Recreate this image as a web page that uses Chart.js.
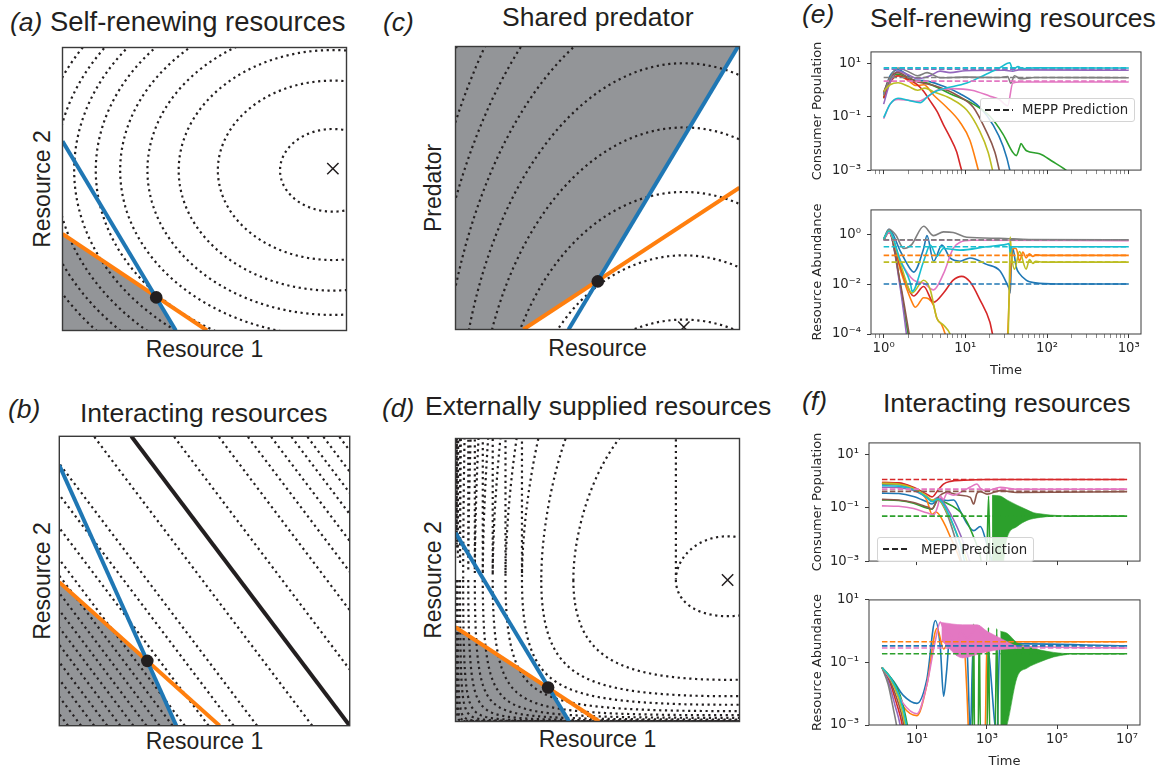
<!DOCTYPE html>
<html>
<head>
<meta charset="utf-8">
<script src="https://cdn.jsdelivr.net/npm/chart.js@4.4.1/dist/chart.umd.min.js"></script>
<style>
html, body { margin: 0; padding: 0; background: #fff; }
body { width: 1161px; height: 771px; position: relative; overflow: hidden; font-family: 'Liberation Sans', Arial, sans-serif; color: #231f20; }
canvas { position: absolute; }
.ttl { position: absolute; font-size: 26.5px; line-height: 26px; white-space: nowrap; }
.tag { position: absolute; font-size: 26.5px; line-height: 26px; white-space: nowrap; font-style: italic; }
.lbl { position: absolute; font-size: 23px; line-height: 23px; white-space: nowrap; text-align: center; }
.rot { position: absolute; font-size: 23px; line-height: 23px; white-space: nowrap; transform: translate(-50%, -50%) rotate(-90deg); }
.leg { position: absolute; background: rgba(255,255,255,0.85); border: 1px solid #d4d4d4; border-radius: 3px; font-family: 'DejaVu Sans', sans-serif; font-size: 13.3px; color: #262626; }
.leg .dash { position: absolute; height: 2px; background: repeating-linear-gradient(to right, #262626 0 6px, transparent 6px 9px); }
.leg .txt { position: absolute; line-height: 13px; white-space: nowrap; }
</style>
</head>
<body>

<div class="tag" style="left:10px;top:9px">(a)</div>
<div class="ttl" style="left:50px;top:9px;font-size:27.4px">Self-renewing resources</div>
<div class="tag" style="left:8px;top:396px">(b)</div>
<div class="ttl" style="left:80px;top:400px">Interacting resources</div>
<div class="tag" style="left:383px;top:9px">(c)</div>
<div class="ttl" style="left:502px;top:4px">Shared predator</div>
<div class="tag" style="left:382px;top:395px">(d)</div>
<div class="ttl" style="left:425px;top:393px">Externally supplied resources</div>
<div class="tag" style="left:802px;top:1px">(e)</div>
<div class="ttl" style="left:870px;top:5px">Self-renewing resources</div>
<div class="tag" style="left:802px;top:388px">(f)</div>
<div class="ttl" style="left:883px;top:390px">Interacting resources</div>

<div class="lbl" style="left:59px;width:291px;top:338px">Resource 1</div>
<div class="rot" style="left:42px;top:189px">Resource 2</div>
<div class="lbl" style="left:59px;width:291px;top:730px">Resource 1</div>
<div class="rot" style="left:42px;top:581px">Resource 2</div>
<div class="lbl" style="left:452px;width:291px;top:337px">Resource</div>
<div class="rot" style="left:433px;top:188px">Predator</div>
<div class="lbl" style="left:452px;width:291px;top:728px">Resource 1</div>
<div class="rot" style="left:433px;top:580px">Resource 2</div>

<canvas id="pa" width="303" height="302" style="left:53px;top:38px"></canvas>
<canvas id="pb" width="303" height="302" style="left:53px;top:430px"></canvas>
<canvas id="pc" width="303" height="302" style="left:446px;top:37px"></canvas>
<canvas id="pd" width="303" height="302" style="left:446px;top:429px"></canvas>

<canvas id="e1" width="361" height="146" style="left:800px;top:38px"></canvas>
<canvas id="e2" width="361" height="182" style="left:800px;top:196px"></canvas>
<canvas id="f1" width="361" height="146" style="left:800px;top:429px"></canvas>
<canvas id="f2" width="361" height="183" style="left:800px;top:586px"></canvas>

<div class="leg" style="left:980px;top:98px;width:153px;height:22px">
  <div class="dash" style="left:4px;top:10px;width:28px"></div>
  <div class="txt" style="left:41px;top:4px">MEPP Prediction</div>
</div>
<div class="leg" style="left:877px;top:537px;width:155px;height:23px">
  <div class="dash" style="left:5px;top:10px;width:27px"></div>
  <div class="txt" style="left:43px;top:5px">MEPP Prediction</div>
</div>

<script>
// ---------- phase-plane panels (a)-(d), axes 0..1 ----------
// (a) self-renewing: elliptical contours around the optimum
const aCenter = [0.952, 0.566];
const aRadX = [0.186, 0.405, 0.543, 0.653, 0.749, 0.835, 0.911, 0.976, 1.041, 1.103];
const aRadY = [0.146, 0.317, 0.425, 0.511, 0.586, 0.654, 0.713, 0.764, 0.815, 0.864];
const aBlue = [[0, 0.669], [0.399, 0]];
const aOrange = [[0, 0.341], [0.509, 0]];
const aFixed = [0.33, 0.117];
const aShade = [[0, 0], [0, 0.341], [0.33, 0.117], [0.399, 0]];
const aOptimum = [0.952, 0.572];

// (b) interacting: straight contours, given by their crossing of the Resource 1 axis
const bSlope = 0.752;
const bLevels = [0.03, 0.075, 0.12, 0.165, 0.21, 0.255, 0.30, 0.345, 0.39, 0.432, 0.514, 0.600, 0.681,
                 0.871, 1.146, 1.30, 1.40, 1.48, 1.55, 1.605, 1.66, 1.715];
const bBlue = [[0, 0.9], [0.403, 0]];
const bOrange = [[0, 0.496], [0.552, 0]];
const bBlack = [[0.248, 1], [1, 0]];
const bFixed = [0.303, 0.224];
const bShade = [[0, 0], [0, 0.496], [0.303, 0.224], [0.403, 0]];

// (c) shared predator
const cCenter = [0.804, -0.431];
const cRadX = [0.464, 0.567, 0.653, 0.729, 0.797, 0.863, 0.921, 0.976, 1.027];
const cRadY = [0.466, 0.693, 0.917, 1.145, 1.372, 1.600, 1.828, 2.055, 2.283];
const cBlue = [[0.398, 0], [0.995, 1]];
const cOrange = [[0.239, 0], [1, 0.501]];
const cFixed = [0.501, 0.17];
const cShade = [[0, 0], [0.239, 0], [0.501, 0.17], [0.995, 1], [0, 1]];
const cOptimum = [0.804, 0.008];

// (d) externally supplied: contours through these Resource 1 values (at Resource 2 = optimum)
const dOptimum = [0.958, 0.5];
const dCrossings = [0.776, 0.415, 0.302, 0.234, 0.176, 0.131, 0.096, 0.068, 0.045, 0.027, 0.016, 0.008, 0.004, 0.002];
const dBlue = [[0, 0.667], [0.4, 0]];
const dOrange = [[0, 0.333], [0.506, 0]];
const dFixed = [0.326, 0.12];
const dShade = [[0, 0], [0, 0.333], [0.326, 0.12], [0.4, 0]];

// ---------- time series (e) ----------
const eXTicks = [0.8, 0.9, 1, 2, 3, 4, 5, 6, 7, 8, 9, 10, 20, 30, 40, 50, 60, 70, 80, 90,
                 100, 200, 300, 400, 500, 600, 700, 800, 900, 1000];
const eXLabels = { 1: '10⁰', 10: '10¹', 100: '10²', 1000: '10³' };
const eConsYTicks = [0.001, 0.1, 10];
const eConsYLabels = { 0.001: '10⁻³', 0.1: '10⁻¹', 10: '10¹' };
const eResYTicks = [0.0001, 0.01, 1];
const eResYLabels = { 0.0001: '10⁻⁴', 0.01: '10⁻²', 1: '10⁰' };

const eConsBlue = [[1,0.74],[1.2,3.5],[1.5,5.9],[2,3.5],[2.3,2.4],[3.1,2.3],[5.4,1.4],[8.6,0.74],[15,0.23],[22,0.048],[29,0.0079],[35,0.001],[38,0.0002]];
const eConsOrange = [[1,0.55],[1.2,2],[1.5,3.5],[2,2.3],[2.5,1.5],[3.1,1.6],[4.1,0.65],[5.9,0.23],[8.6,0.063],[11.4,0.013],[14.4,0.001],[16,0.0003]];
const eConsGreen = [[1,0.5],[1.2,2.5],[1.5,4],[2,2.8],[2.6,2.1],[3.4,1.85],[6.5,0.74],[12.5,0.3],[20,0.105],[29,0.022],[38,0.0047],[42,0.0035],[46,0.007],[48,0.01],[52,0.007],[56,0.0053],[81,0.0041],[117,0.0021],[170,0.001],[220,0.0005]];
const eConsRed = [[1,0.5],[1.2,2],[1.5,3.5],[2,2.5],[2.6,1.6],[3.1,0.9],[3.7,0.4],[4.5,0.16],[5.4,0.05],[6.5,0.017],[7.8,0.005],[9,0.001],[11,0.0002]];
const eConsPurple = [[1,0.3],[1.2,2],[1.5,5.2],[2,3.8],[2.6,2.7],[3.7,3.5],[4.9,5.2],[6.5,4.6],[10,5.4],[30,5.6],[38,5.2],[45,5.8],[1000,5.6]];
const eConsBrown = [[1,0.85],[1.2,3],[1.5,4.6],[2,3],[2.6,2.1],[3.1,1.85],[4.9,1.26],[7.9,0.65],[12.5,0.23],[18,0.029],[23,0.0047],[26,0.001],[29,0.0002]];
const eConsPink = [[1,0.085],[1.2,0.3],[1.5,0.45],[2,0.42],[2.6,0.38],[3.4,0.55],[4.5,1.0],[7,1.15],[12,1.0],[20,0.6],[26,0.45],[33,0.26],[38,1.85],[47,2.05],[1000,2.05]];
const eConsGray = [[1,0.65],[1.2,3],[1.5,6.8],[2,5],[2.6,3.5],[3.4,4.6],[4.9,2.95],[10,3.1],[26,3.0],[33,3.3],[36,1.85],[40,3.5],[47,2.7],[70,3.0],[1000,2.95]];
const eConsOlive = [[1,0.9],[1.2,1.6],[1.5,1.9],[2,1.4],[2.6,1.0],[3.2,1.2],[4,0.9],[6.5,0.5],[10.4,0.18],[15,0.029],[19,0.0047],[21.5,0.001],[24,0.0002]];
const eConsCyan = [[1,0.093],[1.2,0.3],[1.5,0.5],[2,0.42],[2.8,0.34],[3.5,0.6],[4.5,0.95],[10.4,1.85],[18,4],[26,6.8],[35,10.8],[38,5.9],[44,7.7],[50,6.5],[70,6.9],[1000,6.8]];
const eConsPred = { cyan: 6.9, purple: 6.2, gray: 3.0, pink: 2.2 };

const eResBlue = [[1,0.68],[1.16,1.66],[1.61,0.21],[2.13,0.041],[2.33,0.031],[3.09,0.28],[3.39,0.92],[4.08,0.086],[5.16,0.38],[6.5,0.116],[8.6,0.086],[11.4,0.116],[18.2,0.064],[26.3,0.036],[31.7,0.012],[34.7,0.006],[35.4,0.0045],[36.5,0.05],[38.2,0.28],[41.9,0.05],[46,0.027],[55.5,0.0147],[61,0.0127],[80.5,0.011],[170,0.0103],[1000,0.0103]];
const eResOrange = [[1,0.68],[1.16,1.42],[1.61,0.036],[2.33,0.0014],[2.45,0.0012],[3.09,0.0029],[4.08,0.0014],[4.48,0.00043],[5.16,0.00023],[5.66,0.0001],[6.5,0.00002],[30,0.000001],[33,0.0001],[35,0.01],[38.2,0.28],[41.9,0.28],[46,0.086],[50.6,0.2],[55.5,0.116],[61,0.17],[67,0.134],[73,0.155],[88,0.147],[1000,0.147]];
const eResGreen = [[1,0.62],[1.16,1.3],[1.61,0.0082],[1.9,0.00023],[2.0,0.0001],[2.2,0.00002]];
const eResRed = [[1,0.62],[1.16,1.23],[1.61,0.05],[2.13,0.0045],[2.33,0.0034],[3.09,0.0082],[4.08,0.0019],[5.4,0.0045],[7.1,0.0147],[9,0.021],[11.4,0.0127],[15,0.0025],[20,0.0003],[21.5,0.0001],[25,0.00002]];
const eResPurple = [[1,0.62],[1.16,1.3],[1.61,0.006],[1.85,0.0002],[1.95,0.00005]];
const eResBrown = [[1,0.62],[1.16,1.3],[1.61,0.01],[1.94,0.0003],[2.1,0.00006]];
const eResPink = [[1,0.62],[1.16,1.23],[1.61,0.086],[2.33,0.0147],[3.1,0.011],[4.08,0.006],[5.4,0.027],[7.1,0.28],[8.6,0.5],[12,0.6],[1000,0.58]];
const eResGray = [[1,0.59],[1.16,1.66],[1.4,1.0],[1.77,0.28],[2.2,0.4],[3.09,2.2],[4.08,0.92],[5.4,1.3],[7.1,1.23],[10.4,0.79],[26,0.72],[60,0.64],[1000,0.62]];
const eResOlive = [[1,0.68],[1.16,1.42],[1.61,0.064],[2.23,0.0045],[3.09,0.0147],[3.72,0.006],[4.48,0.00043],[5.4,0.00023],[6.5,0.0001],[8,0.00001],[30,0.000001],[33.5,0.0001],[34.7,0.02],[35.4,0.8],[36.5,0.2],[40,0.041],[46,0.21],[55.5,0.041],[61,0.1],[67,0.07],[73,0.085],[88,0.079],[1000,0.079]];
const eResCyan = [[1,0.68],[1.16,1.42],[1.61,0.086],[2.13,0.011],[2.23,0.0052],[3.09,0.086],[3.72,0.38],[4.48,0.134],[5.4,0.28],[8.6,0.24],[18.2,0.33],[31.7,0.41],[34.2,0.44],[35.4,0.2],[37,0.33],[41.9,0.33],[1000,0.33]];
const eResPred = { gray: 0.62, pink: 0.6, cyan: 0.33, orange: 0.147, olive: 0.079, blue: 0.0103 };

// ---------- time series (f) ----------
const fXTicks = [10, 1000, 100000, 10000000];
const fXLabels = { 10: '10¹', 1000: '10³', 100000: '10⁵', 10000000: '10⁷' };
const fYTicks = [0.001, 0.1, 10];
const fYLabels = { 0.001: '10⁻³', 0.1: '10⁻¹', 10: '10¹' };

const fConsRed = [[1,0.9],[3,0.88],[8,0.6],[19,0.33],[27,0.26],[40,0.47],[57,0.79],[90,1.0],[215,1.1],[1000,1.17],[1e7,1.17]];
const fConsPink = [[1,0.12],[3,0.115],[8,0.095],[19,0.066],[30,0.055],[40,0.127],[46,0.28],[57,0.21],[72,0.36],[112,0.3],[215,0.45],[334,0.61],[518,0.8],[645,0.55],[1000,0.45],[2400,0.6],[7200,0.5],[1e7,0.51]];
const fConsBrown = [[1,0.21],[3,0.2],[8,0.16],[19,0.11],[27,0.093],[40,0.245],[72,0.38],[173,0.3],[334,0.25],[416,0.14],[518,0.36],[645,0.41],[1000,0.33],[2400,0.45],[7200,0.38],[1e7,0.41]];
const fConsGreen = [[1,0.2],[3,0.19],[8,0.15],[19,0.1],[27,0.09],[40,0.2],[72,0.15],[173,0.07],[268,0.03],[416,0.008],[645,0.0015],[800,0.0003],[950,0.0003],[1110,0.28],[1250,0.0003],[1400,0.0003]];
const fConsGreenHi = [[1400,0.3],[2400,0.28],[3700,0.2],[7200,0.127],[13900,0.085],[21500,0.066],[33400,0.06],[64000,0.054],[193000,0.05]];
const fConsGreenLo = [[1400,0.0002],[2400,0.0002],[3700,0.0071],[7200,0.02],[13900,0.034],[21500,0.04],[33400,0.044],[64000,0.048],[193000,0.049]];
const fConsGreenTail = [[193000,0.049],[1e7,0.049]];
const fConsBlue = [[1,0.36],[3,0.35],[8,0.27],[19,0.17],[27,0.14],[40,0.23],[72,0.19],[112,0.2],[173,0.076],[268,0.026],[416,0.014],[645,0.02],[1000,0.0042],[1390,0.001],[1600,0.0003]];
const fConsOrange = [[1,0.9],[3,0.85],[8,0.55],[19,0.2],[27,0.058],[35,0.07],[57,0.03],[90,0.008],[173,0.001],[215,0.0003]];
const fConsOlive = [[1,0.85],[3,0.8],[8,0.55],[19,0.28],[27,0.2],[40,0.21],[72,0.07],[173,0.005],[268,0.001],[330,0.0003]];
const fConsPurple = [[1,0.6],[3,0.58],[8,0.45],[19,0.25],[27,0.19],[40,0.25],[72,0.1],[173,0.01],[268,0.002],[400,0.0004]];
const fConsGray = [[1,0.79],[3,0.75],[8,0.5],[19,0.25],[27,0.18],[40,0.2],[72,0.06],[150,0.003],[215,0.0005]];
const fConsCyan = [[1,0.69],[3,0.66],[8,0.48],[19,0.25],[27,0.17],[40,0.22],[72,0.08],[173,0.004],[250,0.0006]];
const fConsPred = { red: 1.17, pink: 0.51, brown: 0.42, green: 0.049 };

const fResBlue = [[1,0.069],[2.15,0.025],[4,0.009],[10,0.0049],[19.3,0.03],[33.5,2.2],[46.4,0.3],[57.6,0.0083],[70,0.05],[90,1.09],[139,0.17],[173,0.5],[215,0.34],[268,0.25],[334,0.0005],[400,0.3],[1000,0.34],[1930,0.0005],[2300,0.34],[3000,0.4],[1e7,0.34]];
const fResOrange = [[1,0.069],[2.15,0.02],[4,0.004],[10,0.002],[19.3,0.02],[37.3,1.23],[57.6,0.27],[90,0.61],[139,0.34],[215,0.45],[268,0.0104],[300,0.0005],[700,0.00001],[900,0.001],[1000,0.43],[1930,0.46],[1e7,0.46]];
const fResPink = [[1,0.069],[2.15,0.02],[4,0.005],[10,0.0023],[19.3,0.02],[33.5,0.5],[46.4,1.95],[57.6,1.2],[90,0.8],[139,0.3],[173,1.0],[268,0.6],[518,1.2],[1000,0.5],[3730,0.35],[1e7,0.29]];
const fResPinkHi = [[50,1.9],[200,1.6],[518,1.6],[1000,1.0],[2400,0.6],[7200,0.32]];
const fResPinkLo = [[50,0.5],[200,0.14],[518,0.18],[1000,0.22],[2400,0.26],[7200,0.28]];
const fResGreen = [[1,0.069],[1.7,0.035],[3.3,0.009],[5.3,0.001],[6.5,0.0002],[20,0.00001],[380,0.0005],[416,1.7],[440,0.0005],[560,0.0005],[600,1.5],[650,0.0005],[1000,0.0005],[1100,1.3],[1200,0.0005],[1700,0.0005],[1900,1.2],[2100,0.0005],[2400,0.0005]];
const fResGreenHi = [[2400,1.0],[3730,0.86],[7200,0.43],[13900,0.33],[33400,0.25],[80000,0.21],[193000,0.19]];
const fResGreenLo = [[2400,0.0003],[3730,0.001],[7200,0.033],[13900,0.066],[33400,0.105],[80000,0.15],[193000,0.18]];
const fResGreenTail = [[193000,0.19],[1e7,0.19]];
const fResRed = [[1,0.069],[1.6,0.027],[2.6,0.005],[3.8,0.001],[4.6,0.0002]];
const fResPurple = [[1,0.069],[1.5,0.025],[2.4,0.004],[3.3,0.001],[4,0.0002]];
const fResBrown = [[1,0.069],[1.6,0.03],[2.8,0.006],[4.2,0.001],[5,0.0002]];
const fResGray = [[1,0.069],[1.5,0.02],[2.15,0.003],[2.6,0.001],[3.2,0.0002]];
const fResOlive = [[1,0.069],[1.7,0.032],[3,0.007],[4.6,0.001],[5.5,0.0002]];
const fResCyan = [[1,0.069],[1.7,0.034],[3.2,0.008],[5,0.001],[6,0.0002]];
const fResPred = { orange: 0.46, blue: 0.34, pink: 0.29, green: 0.19 };

// ---------- styles ----------
const TAB = { blue: '#1f77b4', orange: '#ff7f0e', green: '#2ca02c', red: '#d62728', purple: '#9467bd',
              brown: '#8c564b', pink: '#e377c2', gray: '#7f7f7f', olive: '#bcbd22', cyan: '#17becf' };
const INK = '#231f20';
const SHADE = '#939598';

Chart.defaults.font.family = "'DejaVu Sans', sans-serif";

const frame = {
  id: 'frame',
  afterDatasetsDraw(chart, args, opts) {
    const a = chart.chartArea, ctx = chart.ctx;
    ctx.save();
    ctx.strokeStyle = opts.color || '#333';
    ctx.lineWidth = opts.width || 1;
    ctx.strokeRect(a.left, a.top, a.right - a.left, a.bottom - a.top);
    ctx.restore();
  }
};

const pts = pairs => pairs.map(p => ({ x: p[0], y: p[1] }));

function ellipse(c, rx, ry) {
  const out = [];
  for (let i = 0; i <= 200; i++) {
    const t = i / 200 * 2 * Math.PI;
    out.push({ x: c[0] + rx * Math.cos(t), y: c[1] + ry * Math.sin(t) });
  }
  return out;
}

function solve(f, target, lo, hi) {
  let flo = f(lo) - target;
  for (let i = 0; i < 80; i++) {
    const mid = (lo + hi) / 2, fm = f(mid) - target;
    if ((fm > 0) === (flo > 0)) { lo = mid; flo = fm; } else { hi = mid; }
  }
  return (lo + hi) / 2;
}

// level curve of a ln x - x + b ln y - y passing through (x0, b)
function supplyContour(x0) {
  const [a, b] = dOptimum;
  const g = x => a * Math.log(x) - x;
  const h = y => b * Math.log(y) - y;
  const L = g(x0) + h(b);
  const xHi = Math.min(solve(g, g(x0), a, 60), 1.3);
  const n = 260, lower = [], upper = [];
  for (let i = 0; i <= n; i++) {
    const x = x0 + (xHi - x0) * (1 - Math.cos(Math.PI * i / n)) / 2;
    const r = Math.min(L - g(x), h(b));
    lower.push({ x, y: solve(h, r, 1e-14, b) });
    upper.push({ x, y: solve(h, r, b, 200) });
  }
  return lower.concat(upper.reverse());
}

function dotted(data) {
  return { data, showLine: true, pointRadius: 0, borderColor: INK, borderWidth: 2.2, borderDash: [2.2, 3.6], order: 3 };
}
function thick(pairs, color) {
  return { data: pts(pairs), showLine: true, pointRadius: 0, borderColor: color, borderWidth: 4, order: 2 };
}
function shade(pairs) {
  return { data: pts(pairs), showLine: true, pointRadius: 0, borderWidth: 0, borderColor: 'rgba(0,0,0,0)',
           backgroundColor: SHADE, fill: 'shape', order: 5 };
}
function fixedPoint(p) {
  return { data: pts([p]), pointRadius: 6.3, pointBackgroundColor: INK, pointBorderWidth: 0, order: 0 };
}
function optimum(p) {
  return { data: pts([p]), pointStyle: 'crossRot', pointRadius: 8, pointBorderColor: INK, pointBorderWidth: 1.5, order: 1, clip: 0 };
}

function phasePanel(id, datasets) {
  new Chart(document.getElementById(id), {
    type: 'scatter',
    data: { datasets },
    options: {
      responsive: false, animation: false, devicePixelRatio: 1,
      layout: { padding: 6 },
      plugins: { legend: { display: false }, tooltip: { enabled: false }, frame: { width: 1.4, color: '#3a3a3a' } },
      scales: {
        x: { type: 'linear', min: 0, max: 1, display: false },
        y: { type: 'linear', min: 0, max: 1, display: false }
      }
    },
    plugins: [frame]
  });
}

phasePanel('pa', [
  shade(aShade),
  ...aRadX.map((r, i) => dotted(ellipse(aCenter, r, aRadY[i]))),
  thick(aBlue, TAB.blue), thick(aOrange, TAB.orange),
  fixedPoint(aFixed), optimum(aOptimum)
]);

phasePanel('pb', [
  shade(bShade),
  ...bLevels.map(c => dotted(pts([[c, 0], [c - bSlope, 1]]))),
  thick(bBlack, INK), thick(bBlue, TAB.blue), thick(bOrange, TAB.orange),
  fixedPoint(bFixed)
]);

phasePanel('pc', [
  shade(cShade),
  ...cRadX.map((r, i) => dotted(ellipse(cCenter, r, cRadY[i]))),
  thick(cBlue, TAB.blue), thick(cOrange, TAB.orange),
  fixedPoint(cFixed), optimum(cOptimum)
]);

phasePanel('pd', [
  shade(dShade),
  ...dCrossings.map(x0 => dotted(supplyContour(x0))),
  thick(dBlue, TAB.blue), thick(dOrange, TAB.orange),
  fixedPoint(dFixed), optimum(dOptimum)
]);

// ---------- time-series helpers ----------
const ORDER = ['blue', 'orange', 'green', 'red', 'purple', 'brown', 'pink', 'gray', 'olive', 'cyan'];

function series(pairs, name, extra) {
  return Object.assign({
    data: pts(pairs), showLine: true, pointRadius: 0, borderColor: TAB[name], backgroundColor: TAB[name],
    borderWidth: 1.6, cubicInterpolationMode: 'monotone', fill: false, order: 20 - ORDER.indexOf(name)
  }, extra || {});
}
function predictions(values, x0, x1) {
  return Object.keys(values).map(name =>
    series([[x0, values[name]], [x1, values[name]]], name, { borderDash: [5.5, 2.4], cubicInterpolationMode: 'default', order: 1 }));
}
function band(hi, lo, name) {
  return [series(hi, name, { fill: '+1', borderWidth: 0.6 }), series(lo, name, { borderWidth: 0.6 })];
}

const isDecade = v => Math.abs(Math.log10(v) - Math.round(Math.log10(v))) < 1e-6;

function timeChart(id, datasets, o) {
  new Chart(document.getElementById(id), {
    type: 'scatter',
    data: { datasets },
    options: {
      responsive: false, animation: false, devicePixelRatio: 1,
      layout: { padding: { top: o.padTop, right: o.padRight, left: 0, bottom: 0 } },
      plugins: { legend: { display: false }, tooltip: { enabled: false }, frame: { width: 1, color: '#3a3a3a' } },
      scales: {
        x: {
          type: 'logarithmic', min: o.xMin, max: o.xMax,
          afterBuildTicks: s => { s.ticks = o.xTicks.map(v => ({ value: v })); },
          afterFit: s => { s.height = o.xHeight; },
          ticks: { autoSkip: false, maxRotation: 0, padding: 3, color: '#262626', font: { size: 13.2 },
                   callback: v => (o.xLabels && o.xLabels[v]) || '' },
          grid: { drawOnChartArea: false, tickLength: 4, tickColor: '#3a3a3a',
                  tickWidth: c => (c.tick && !isDecade(c.tick.value)) ? 0.6 : 1 },
          border: { display: false },
          title: { display: !!o.xTitle, text: o.xTitle || '', color: '#262626', font: { size: 13 }, padding: { top: 0, bottom: 0 } }
        },
        y: {
          type: 'logarithmic', min: o.yMin, max: o.yMax,
          afterBuildTicks: s => { s.ticks = o.yTicks.map(v => ({ value: v })); },
          afterFit: s => { s.width = o.yWidth; },
          ticks: { padding: 6, color: '#262626', font: { size: 13.2 }, callback: v => o.yLabels[v] || '' },
          grid: { drawOnChartArea: false, tickLength: 4, tickColor: '#3a3a3a' },
          border: { display: false },
          title: { display: true, text: o.yTitle, color: '#262626', font: { size: 13 }, padding: { top: 10, bottom: 0 } }
        }
      }
    },
    plugins: [frame]
  });
}

timeChart('e1', [
  ...predictions(eConsPred, 1, 1000),
  series(eConsBlue, 'blue'), series(eConsOrange, 'orange'), series(eConsGreen, 'green'),
  series(eConsRed, 'red'), series(eConsPurple, 'purple'), series(eConsBrown, 'brown'),
  series(eConsPink, 'pink'), series(eConsGray, 'gray'), series(eConsOlive, 'olive'), series(eConsCyan, 'cyan')
], { xMin: 0.708, xMax: 1413, yMin: 0.001, yMax: 27.5, xTicks: eXTicks, xLabels: null,
     yTicks: eConsYTicks, yLabels: eConsYLabels, yTitle: 'Consumer Population',
     padTop: 7, padRight: 20, yWidth: 71, xHeight: 8 });

timeChart('e2', [
  ...predictions(eResPred, 1, 1000),
  series(eResBlue, 'blue'), series(eResOrange, 'orange'), series(eResGreen, 'green'),
  series(eResRed, 'red'), series(eResPurple, 'purple'), series(eResBrown, 'brown'),
  series(eResPink, 'pink'), series(eResGray, 'gray'), series(eResOlive, 'olive'), series(eResCyan, 'cyan')
], { xMin: 0.708, xMax: 1413, yMin: 0.0001, yMax: 10, xTicks: eXTicks, xLabels: eXLabels, xTitle: 'Time',
     yTicks: eResYTicks, yLabels: eResYLabels, yTitle: 'Resource Abundance',
     padTop: 7, padRight: 20, yWidth: 71, xHeight: 44 });

timeChart('f1', [
  ...predictions(fConsPred, 1, 1e7),
  series(fConsBlue, 'blue'), series(fConsOrange, 'orange'),
  series(fConsGreen, 'green'), ...band(fConsGreenHi, fConsGreenLo, 'green'), series(fConsGreenTail, 'green'),
  series(fConsRed, 'red'), series(fConsPurple, 'purple'), series(fConsBrown, 'brown'),
  series(fConsPink, 'pink'), series(fConsGray, 'gray'), series(fConsOlive, 'olive'), series(fConsCyan, 'cyan')
], { xMin: 0.427, xMax: 2.34e7, yMin: 0.001, yMax: 28, xTicks: fXTicks, xLabels: null,
     yTicks: fYTicks, yLabels: fYLabels, yTitle: 'Consumer Population',
     padTop: 7, padRight: 21, yWidth: 69, xHeight: 8 });

timeChart('f2', [
  ...predictions(fResPred, 1, 1e7),
  series(fResBlue, 'blue'), series(fResOrange, 'orange'),
  series(fResGreen, 'green'), ...band(fResGreenHi, fResGreenLo, 'green'), series(fResGreenTail, 'green'),
  series(fResRed, 'red'), series(fResPurple, 'purple'), series(fResBrown, 'brown'),
  series(fResPink, 'pink'), ...band(fResPinkHi, fResPinkLo, 'pink'),
  series(fResGray, 'gray'), series(fResOlive, 'olive'), series(fResCyan, 'cyan')
], { xMin: 0.427, xMax: 2.34e7, yMin: 0.001, yMax: 10, xTicks: fXTicks, xLabels: fXLabels, xTitle: 'Time',
     yTicks: fYTicks, yLabels: fYLabels, yTitle: 'Resource Abundance',
     padTop: 7, padRight: 21, yWidth: 69, xHeight: 44 });
</script>
</body>
</html>
